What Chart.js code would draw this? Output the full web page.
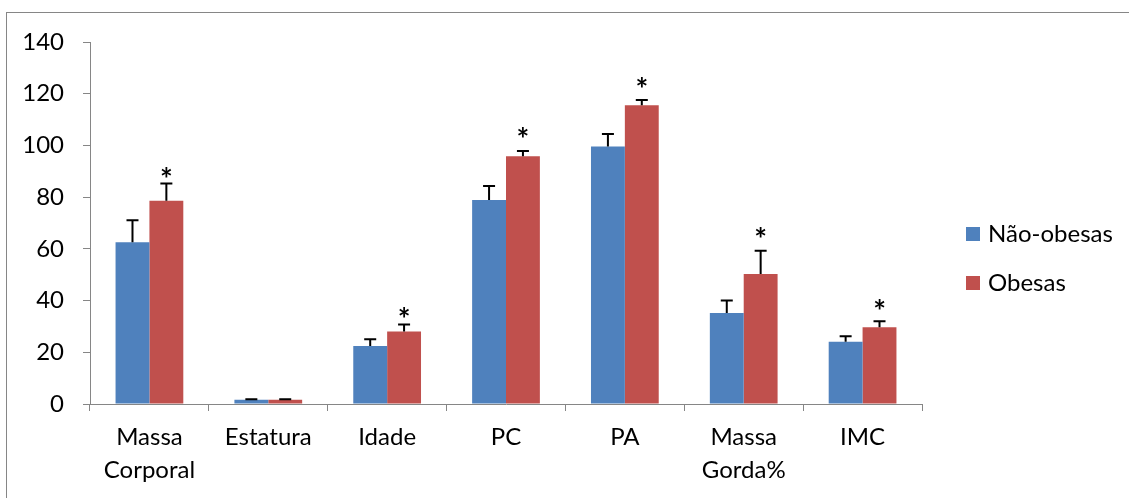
<!DOCTYPE html>
<html>
<head>
<meta charset="utf-8">
<script src="https://cdn.jsdelivr.net/npm/chart.js@4.4.0/dist/chart.umd.min.js"></script>
<style>
    html, body { margin: 0; padding: 0; background: #fff; overflow: hidden; }
    #wrap { position: relative; width: 1129px; height: 498px; }
    #frame { position: absolute; left: 6px; top: 12px; width: 1200px; height: 600px; border: 1px solid #868686; box-sizing: border-box; }
    canvas { position: absolute; left: 0; top: 0; }
    .legend { position: absolute; left: 966px; font-family: Lato, sans-serif; font-size: 24px; color: #000; line-height: 1; }
    .legend span.box { display: inline-block; width: 14px; height: 14px; margin-right: 8px; vertical-align: 1px; }
</style>
</head>
<body>
<div id="wrap">
    <div id="frame"></div>
    <canvas id="chart" width="1129" height="498"></canvas>
    <div class="legend" style="top:221px"><span class="box" style="background:#4F81BD"></span>Não-obesas</div>
    <div class="legend" style="top:270px"><span class="box" style="background:#C0504D"></span>Obesas</div>
</div>
<script>
// Categories
const categories = [['Massa', 'Corporal'], 'Estatura', 'Idade', 'PC', 'PA', ['Massa', 'Gorda%'], 'IMC'];

// Series values
const naoObesas = [62.6, 1.6, 22.4, 78.9, 99.6, 35.2, 24.1];
const obesas = [78.6, 1.6, 28.0, 95.8, 115.5, 50.3, 29.7];

// Upper error (SD)
const naoObesasErr = [8.5, 0.2, 2.6, 5.4, 4.8, 4.8, 2.1];
const obesasErr = [6.7, 0.2, 2.7, 2.0, 2.1, 9.0, 2.3];

// Significance marks (value where the * sits, null = none)
const starLevel = [89.3, null, 35.2, 104.8, 124.1, 66.1, 38.3];

// Y ticks
const yMin = 0, yMax = 140, yStep = 20;

const axisColor = '#868686';
const fontFamily = 'Lato, sans-serif';

// Error bars + asterisks
const extrasPlugin = {
    id: 'extras',
    afterDatasetsDraw(chart) {
        const ctx = chart.ctx;
        const y = chart.scales.y;
        const errs = [naoObesasErr, obesasErr];
        ctx.save();
        ctx.strokeStyle = '#000';
        ctx.lineWidth = 2;
        chart.data.datasets.forEach((ds, di) => {
            const meta = chart.getDatasetMeta(di);
            meta.data.forEach((bar, i) => {
                const top = y.getPixelForValue(ds.data[i] + errs[di][i]);
                ctx.beginPath();
                ctx.moveTo(bar.x, bar.y);
                ctx.lineTo(bar.x, top);
                ctx.moveTo(bar.x - 6, top);
                ctx.lineTo(bar.x + 6, top);
                ctx.stroke();
            });
        });
        // asterisks over the Obesas bars
        const redMeta = chart.getDatasetMeta(1);
        ctx.fillStyle = '#000';
        ctx.font = 'bold 30px ' + fontFamily;
        ctx.textAlign = 'center';
        ctx.textBaseline = 'alphabetic';
        starLevel.forEach((v, i) => {
            if (v === null) return;
            const cy = y.getPixelForValue(v);
            ctx.fillText('*', redMeta.data[i].x, cy + 17);
        });
        ctx.restore();
    }
};

const ctx = document.getElementById('chart').getContext('2d');
new Chart(ctx, {
    type: 'bar',
    data: {
        labels: categories,
        datasets: [{
            label: 'Não-obesas',
            data: naoObesas,
            backgroundColor: '#4F81BD'
        }, {
            label: 'Obesas',
            data: obesas,
            backgroundColor: '#C0504D'
        }]
    },
    options: {
        responsive: false,
        animation: false,
        layout: { padding: { left: 0, top: 42, right: 207, bottom: 0 } },
        categoryPercentage: 0.57,
        barPercentage: 1.0,
        scales: {
            x: {
                grid: {
                    offset: true,
                    drawOnChartArea: false,
                    color: axisColor,
                    tickLength: 7
                },
                border: { color: axisColor, width: 1 },
                ticks: {
                    color: '#000',
                    padding: 10,
                    font: { family: fontFamily, size: 24, lineHeight: 1.375 },
                    maxRotation: 0,
                    autoSkip: false
                },
                afterFit(scale) { scale.height = 94; }
            },
            y: {
                min: yMin,
                max: yMax,
                ticks: {
                    stepSize: yStep,
                    color: '#000',
                    padding: 19,
                    font: { family: fontFamily, size: 24 }
                },
                grid: {
                    drawOnChartArea: false,
                    color: axisColor,
                    tickLength: 7
                },
                border: { color: axisColor, width: 1 },
                afterFit(scale) { scale.width = 90; }
            }
        },
        plugins: {
            legend: { display: false },
            tooltip: { enabled: false }
        }
    },
    plugins: [extrasPlugin]
});
</script>
</body>
</html>
